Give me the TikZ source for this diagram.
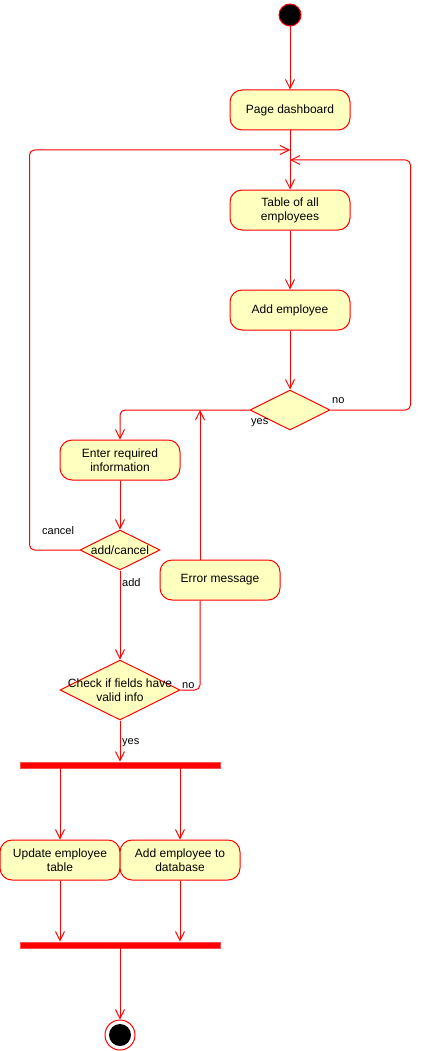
\documentclass[tikz,border=0pt]{standalone}
\usepackage{fontspec}
\setmainfont{Liberation Sans}
\usetikzlibrary{arrows.meta,shapes.geometric,calc}
\definecolor{boxfill}{HTML}{FFFFC0}
\definecolor{boxline}{HTML}{FF0000}
\tikzset{
  actbox/.style={draw=boxline,fill=boxfill,line width=1pt,rounded corners=12pt,
    minimum width=120pt,minimum height=40pt,inner sep=0pt,align=center,
    font=\fontsize{12}{14}\selectfont},
  decis/.style={draw=boxline,fill=boxfill,line width=1pt,diamond,inner sep=0pt,
    minimum width=#1,label={[font=\fontsize{12}{14}\selectfont,align=center]center:}},
  bar/.style={draw=boxline!70,fill=boxline,line width=0.6pt,minimum width=200pt,
    minimum height=6pt,inner sep=0pt},
  flow/.style={draw=boxline,line width=1pt,-{Straight Barb[length=9pt,width=9pt]}},
  plainflow/.style={draw=boxline,line width=1pt},
  lbl/.style={font=\fontsize{11}{13}\selectfont,inner sep=0pt}
}
\begin{document}
\begin{tikzpicture}[x=1pt,y=-1pt]
\useasboundingbox (0,0) rectangle (421,1051);
% initial
\node[circle,draw=boxline,fill=black,line width=1pt,minimum size=22pt,inner sep=0pt] (init) at (290,15) {};
\node[actbox] (pd) at (290,110) {Page dashboard};
\node[actbox] (tab) at (290,210) {Table of all\\employees};
\node[actbox] (add) at (290,310) {Add employee};
\node[draw=boxline,fill=boxfill,line width=1pt,diamond,aspect=2,inner sep=0pt,minimum width=80pt,minimum height=40pt] (d1) at (290,410) {};
\node[actbox] (enter) at (120,460) {Enter required\\information};
\node[draw=boxline,fill=boxfill,line width=1pt,diamond,aspect=2,inner sep=0pt,minimum width=80pt,minimum height=40pt] (ac) at (120,550) {};
\node[font=\fontsize{12}{14}\selectfont,inner sep=0pt] (actext) at (ac.center) {add/cancel};
\node[actbox] (err) at (220,580) {Error message};
\node[draw=boxline,fill=boxfill,line width=1pt,diamond,aspect=2,inner sep=0pt,minimum width=120pt,minimum height=60pt] (chk) at (120,690) {};
\node[font=\fontsize{12}{14}\selectfont,align=center,inner sep=0pt] (chktext) at (chk.center) {Check if fields have\\valid info};
\node[bar] (fork) at (120,765) {};
\node[actbox] (upd) at (60,860) {Update employee\\table};
\node[actbox] (adb) at (180,860) {Add employee to\\database};
\node[bar] (join) at (120,945) {};
\node[circle,draw=boxline,fill=white,line width=1pt,minimum size=30pt,inner sep=0pt] (fin) at (120,1035) {};
\node[circle,fill=black,minimum size=22pt,inner sep=0pt] (finin) at (fin.center) {};

\coordinate (m1) at (290,150);
\coordinate (m2) at (290,160);
\coordinate (m3) at (200,410);

% connectors
\draw[flow] (init) -- (pd);
\draw[flow] (pd) -- (tab);
\draw[flow,rounded corners=5pt] (ac.west) -- ++(-50,0) |- (m1);
\draw[flow,rounded corners=5pt] (d1.east) -- ++(80,0) |- (m2);
\draw[flow] (tab) -- (add);
\draw[flow] (add) -- (d1);
\draw[flow,rounded corners=5pt] (d1.west) -| (enter.north);
\draw[flow] (enter) -- (ac);
\draw[flow] (ac.south) -- (chk.north);
\draw[plainflow,rounded corners=5pt] (chk.east) -| ([xshift=-20pt]err.south);
\draw[flow] ([xshift=-20pt]err.north) -- (m3);
\draw[flow] (chk.south) -- (fork.north);
\draw[flow] (fork.south -| upd.north) -- (upd.north);
\draw[flow] (fork.south -| adb.north) -- (adb.north);
\draw[flow] (upd.south) -- (upd.south |- join.north);
\draw[flow] (adb.south) -- (adb.south |- join.north);
\draw[flow] (join.south) -- (fin.north);

% labels
\node[lbl,anchor=west] (lno1) at (332,401) {no};
\node[lbl,anchor=west] (lyes1) at (251,423) {yes};
\node[lbl,anchor=west] (lcancel) at (42,531) {cancel};
\node[lbl,anchor=west] (ladd) at (122,583) {add};
\node[lbl,anchor=west] (lno2) at (182,686) {no};
\node[lbl,anchor=west] (lyes2) at (122,743) {yes};
\end{tikzpicture}
\end{document}
